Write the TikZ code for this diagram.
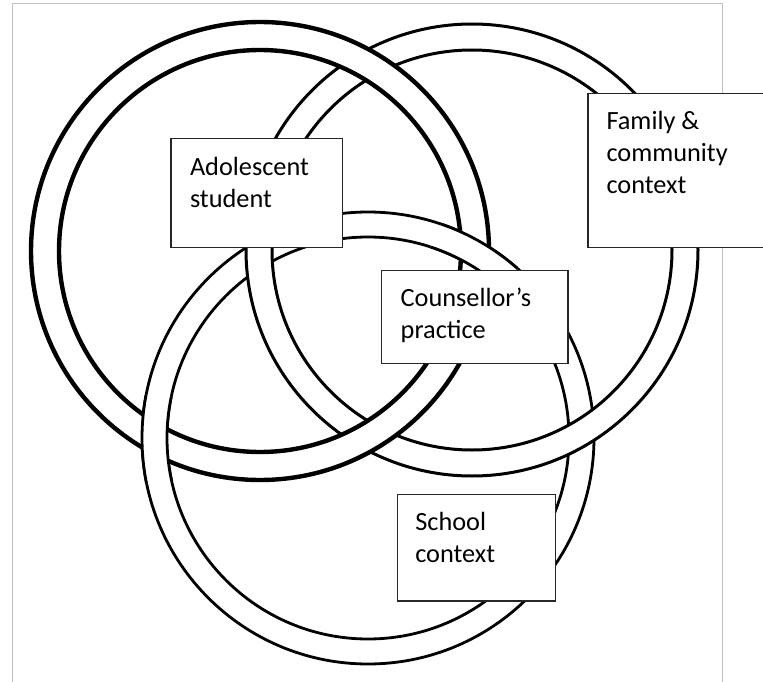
\documentclass[tikz,border=0pt]{standalone}
\usepackage{fontspec}
\setmainfont{Carlito}
\newcommand\ringdraw[4]{% center, rin, rout, line width
  \fill[white, even odd rule] (#1) circle[radius=#3pt] (#1) circle[radius=#2pt];
  \draw[line width=#4] (#1) circle[radius=#2pt] (#1) circle[radius=#3pt];}
\begin{document}
\begin{tikzpicture}[x=1pt,y=-1pt,
  lbox/.style={draw=black!85, line width=1.2pt, fill=white, inner sep=0pt, anchor=north west},
  ltext/.style={anchor=north west, inner sep=0pt, align=left, font=\fontsize{26.3}{32}\selectfont}]
\useasboundingbox (0,0) rectangle (763,682);
\begin{scope}
\clip (0,0) rectangle (763,682);
\draw[black!25, line width=1pt] (12,4) rectangle (722,700);
\coordinate (cA) at (260,251);
\coordinate (cB) at (472,250);
\coordinate (cC) at (368,438);
% C under B, B under A
\ringdraw{cC}{201}{226}{2.8pt}
\ringdraw{cB}{200}{226}{3pt}
\ringdraw{cA}{201}{229}{4.4pt}
% C over A at their two crossings
\begin{scope}
\clip (155,439) circle[radius=45pt] (475,254) circle[radius=45pt];
\ringdraw{cC}{201}{226}{2.8pt}
\end{scope}
% boxes
\node[lbox, minimum width=171.3pt, minimum height=108.8pt] (bA) at (170.3,138.3) {};
\node[lbox, minimum width=220pt, minimum height=154.4pt] (bF) at (587.3,92.6) {};
\node[lbox, minimum width=186.4pt, minimum height=93.5pt] (bC) at (381,269.7) {};
\node[lbox, minimum width=158.1pt, minimum height=106.6pt] (bS) at (396.6,493.7) {};
\node[ltext] (tA) at ([xshift=19.5pt,yshift=-14.6pt]bA.north west) {\strut Adolescent\\student};
\node[ltext] (tF) at ([xshift=19pt,yshift=-14.6pt]bF.north west) {\strut Family \&\\community\\context};
\node[ltext] (tC) at ([xshift=19.5pt,yshift=-14.6pt]bC.north west) {\strut Counsellor’s\\practice};
\node[ltext] (tS) at ([xshift=18.5pt,yshift=-14.6pt]bS.north west) {\strut School\\context};
\end{scope}
\end{tikzpicture}
\end{document}
